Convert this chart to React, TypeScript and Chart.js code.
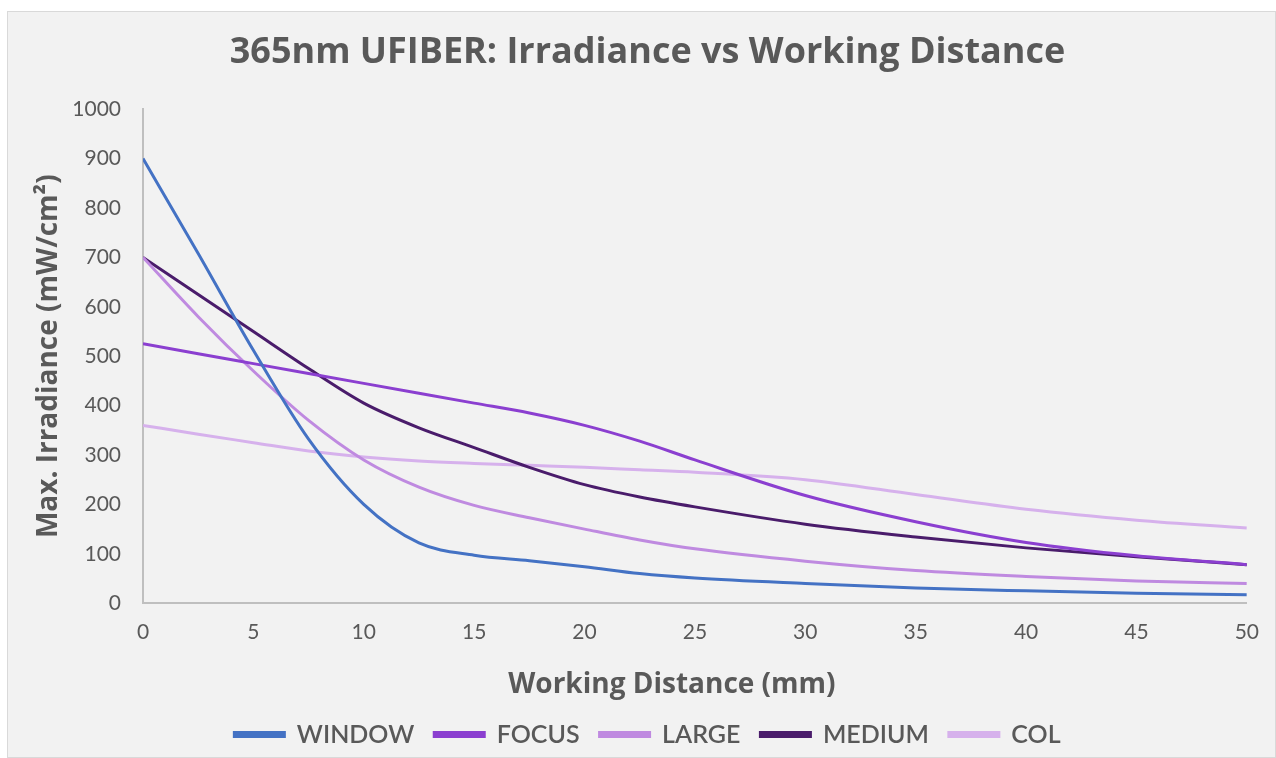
import React, { useEffect, useRef } from "react";
import { Chart, registerables } from "chart.js";

Chart.register(...registerables);

const distances = [0, 2.5, 5, 7.5, 10, 12.5, 15, 17.5, 20, 22.5, 25, 30, 35, 40, 45, 50];
const windowVals = [900, 708, 512, 332, 200, 122, 97, 86, 74, 60, 51, 40, 31, 25, 20, 17];
const focusVals = [525, 505, 485, 465, 445, 425, 405, 385, 360, 328, 290, 218, 165, 123, 96, 78];
const largeVals = [700, 580, 470, 370, 290, 235, 198, 173, 150, 128, 110, 85, 66, 54, 45, 40];
const mediumVals = [700, 625, 550, 475, 405, 355, 315, 275, 240, 215, 195, 160, 134, 112, 94, 78];
const colVals = [360, 342, 325, 308, 296, 288, 283, 279, 275, 270, 265, 250, 220, 190, 168, 152];

const seriesNames = ["WINDOW", "FOCUS", "LARGE", "MEDIUM", "COL"];
const seriesColors = ["#4472c4", "#8b3fd0", "#bf8ae0", "#4a1c6b", "#d6b1ec"];
const seriesValues = [windowVals, focusVals, largeVals, mediumVals, colVals];

const titleText = "365nm UFIBER: Irradiance vs Working Distance";
const xTitle = "Working Distance (mm)";
const yTitle = "Max. Irradiance (mW/cm²)";

const xTitleFont = "bold 28px 'Open Sans'";

const xTitlePlugin = {
  id: "xTitleShifted",
  afterDraw(chart: any) {
    const scale = chart.scales.x;
    const area = chart.chartArea;
    const ctx = chart.ctx;
    ctx.save();
    ctx.font = xTitleFont;
    ctx.fillStyle = "#595959";
    ctx.textAlign = "center";
    ctx.textBaseline = "middle";
    const lh = 28 * 1.2;
    const cx = (area.left + area.right) / 2 - 23;
    const cy = scale.bottom - lh / 2;
    ctx.fillText(xTitle, cx, cy);
    ctx.restore();
  },
};

export default function App() {
  const ref = useRef<HTMLCanvasElement | null>(null);
  useEffect(() => {
    if (!ref.current) return;
    const datasets = seriesNames.map((name, i) => ({
      label: name,
      data: distances.map((d, j) => ({ x: d, y: seriesValues[i][j] })),
      borderColor: seriesColors[i],
      backgroundColor: seriesColors[i],
      borderWidth: 3,
      pointRadius: 0,
      cubicInterpolationMode: "monotone" as const,
      fill: false,
    }));
    const chart = new Chart(ref.current, {
      type: "line",
      data: { datasets },
      plugins: [xTitlePlugin],
      options: {
        animation: false,
        responsive: true,
        maintainAspectRatio: false,
        layout: { padding: { left: 24, right: 12, top: 0, bottom: 0 } },
        plugins: {
          title: {
            display: true,
            text: titleText,
            color: "#595959",
            font: { family: "Open Sans", size: 36, weight: "bold" },
            padding: { top: 19, bottom: 35 },
          },
          legend: {
            position: "bottom",
            labels: {
              color: "#595959",
              font: { family: "Lato", size: 25, weight: "600" },
              boxWidth: 50,
              boxHeight: 4,
              padding: 20,
            },
          },
          tooltip: { enabled: false },
        },
        scales: {
          x: {
            type: "linear",
            min: 0,
            max: 50,
            grid: { display: false, drawTicks: false },
            border: { display: true, color: "#bfbfbf", width: 2 },
            ticks: {
              stepSize: 5,
              color: "#595959",
              font: { family: "Lato", size: 21 },
              padding: 16,
            },
            title: {
              display: true,
              text: xTitle,
              color: "rgba(0,0,0,0)",
              font: { family: "Open Sans", size: 28, weight: "bold" },
              padding: { top: 8, bottom: 0 },
            },
          },
          y: {
            min: 0,
            max: 1000,
            grid: { display: false, drawTicks: false },
            border: { display: true, color: "#bfbfbf", width: 2 },
            afterFit: (scale: any) => {
              scale.width = 111;
            },
            ticks: {
              stepSize: 100,
              color: "#595959",
              font: { family: "Lato", size: 21 },
              padding: 22,
              callback: (v: any) => String(v),
            },
            title: {
              display: true,
              text: yTitle,
              color: "#595959",
              font: { family: "Open Sans", size: 28, weight: "bold" },
              padding: { top: 0, bottom: 11 },
            },
          },
        },
      },
    });
    return () => chart.destroy();
  }, []);
  return (
    <div
      style={{
        position: "absolute",
        left: 7,
        top: 11,
        width: 1267,
        height: 745,
        background: "#f2f2f2",
        border: "1px solid #d9d9d9",
      }}
    >
      <canvas ref={ref} />
    </div>
  );
}
